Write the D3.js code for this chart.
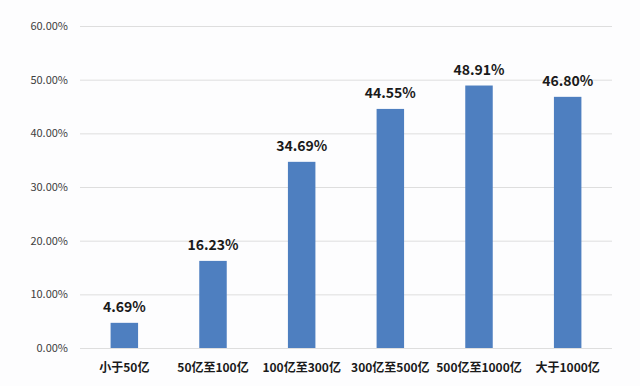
<!DOCTYPE html>
<html>
<head>
<meta charset="utf-8">
<script src="https://cdn.jsdelivr.net/npm/d3@7.9.0/dist/d3.min.js"></script>
<style>
  body { margin: 0; background: #fdfdfe; }
  svg { display: block; font-family: "Noto Sans CJK SC", "Noto Sans", sans-serif; }
</style>
</head>
<body>
<svg width="640" height="386"></svg>
<script>
const categories = ['小于50亿', '50亿至100亿', '100亿至300亿', '300亿至500亿', '500亿至1000亿', '大于1000亿'];
const values = [4.69, 16.23, 34.69, 44.55, 48.91, 46.80];
const yTicks = [0, 10, 20, 30, 40, 50, 60];

const svg = d3.select('svg');
svg.append('rect').attr('width', 640).attr('height', 386).attr('fill', '#fdfdfe');

let x = d3.scaleBand().domain(categories).range([80, 612]).paddingInner(0.69).paddingOuter(0.345);
let y = d3.scaleLinear().domain([0, 60]).range([348, 26]);

// gridlines
svg.append('g')
    .selectAll('line')
    .data(yTicks)
    .join('line')
    .attr('x1', 80)
    .attr('x2', 612)
    .attr('y1', d => y(d) + 0.5)
    .attr('y2', d => y(d) + 0.5)
    .attr('stroke', '#dedede')
    .attr('stroke-width', 1);

// y axis labels
svg.append('g')
    .selectAll('text')
    .data(yTicks)
    .join('text')
    .attr('x', 68)
    .attr('y', d => y(d) + 4)
    .attr('text-anchor', 'end')
    .attr('font-size', 11)
    .attr('fill', '#404040')
    .text(d => d.toFixed(2) + '%');

// bars
svg.append('g')
    .selectAll('rect')
    .data(values)
    .join('rect')
    .attr('x', (d, i) => x(categories[i]))
    .attr('y', d => y(d))
    .attr('width', x.bandwidth())
    .attr('height', d => y(0) - y(d))
    .attr('fill', '#4e7fc0');

// value labels
svg.append('g')
    .selectAll('text')
    .data(values)
    .join('text')
    .attr('x', (d, i) => x(categories[i]) + x.bandwidth() / 2)
    .attr('y', d => y(d) - 11)
    .attr('text-anchor', 'middle')
    .attr('font-size', 14)
    .attr('font-weight', 'bold')
    .attr('fill', '#1a1a1a')
    .text(d => d.toFixed(2) + '%');

// category labels
svg.append('g')
    .selectAll('text')
    .data(categories)
    .join('text')
    .attr('x', d => x(d) + x.bandwidth() / 2)
    .attr('y', 372)
    .attr('text-anchor', 'middle')
    .attr('font-size', 12)
    .attr('font-weight', 'bold')
    .attr('fill', '#1a1a1a')
    .text(d => d);
</script>
</body>
</html>
